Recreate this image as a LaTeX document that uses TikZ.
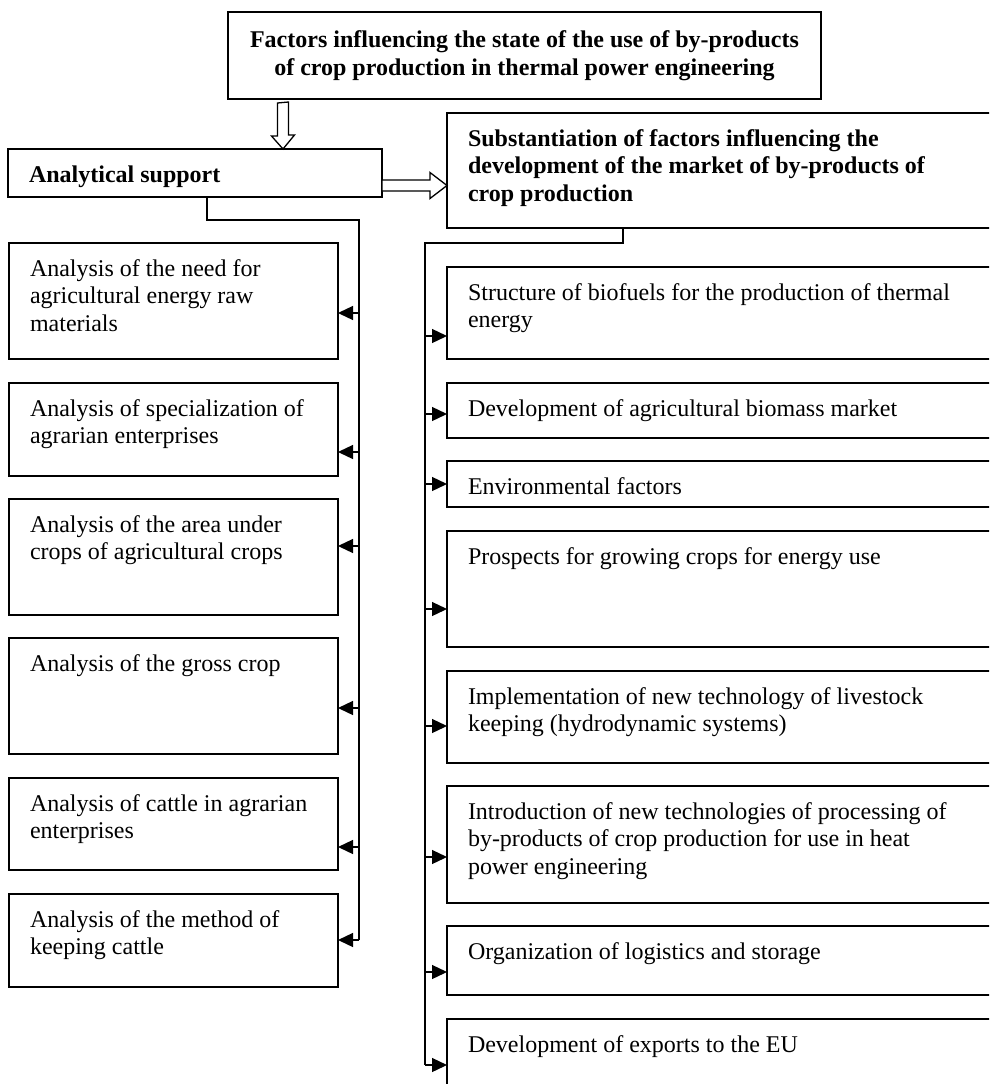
\documentclass[tikz,border=0pt]{standalone}
\usepackage{fontspec}
\setmainfont{Liberation Serif}
\usepackage{tikz}
\usetikzlibrary{arrows.meta}
\usetikzlibrary{positioning}
\newcommand{\cell}[3]{\parbox[c][#2][t]{#1}{\raggedright\rule{0pt}{33pt}#3}}
\tikzstyle{blk}=[draw=black, line width=1.6pt, anchor=north west, inner xsep=21pt, inner ysep=0pt, outer sep=0pt]
\tikzstyle{hol}=[draw=black, line width=1.3pt, fill=white, line join=miter]
\tikzstyle{ln}=[line width=1.3pt]
\tikzstyle{arr}=[ln, -{Triangle[length=15pt,width=14pt]}]

\begin{document}
\begin{tikzpicture}[x=1pt, y=-1pt, font=\fontsize{24}{27.5}\selectfont]
          \useasboundingbox (0,0) rectangle (989,1084);
          \clip (0,0) rectangle (989,1084);
          \fill[white] (0,0) rectangle (989,1084);
          % top of the scheme
          \node[draw=black, line width=1.6pt, minimum width=593pt, minimum height=87pt, align=center, inner sep=0pt, font=\fontsize{24}{27.5}\selectfont\bfseries] (top0) at (524.5,55.5){Factors influencing the state of the use of by-products\\of crop production in thermal power engineering};
          \node[blk] (ana0) at (8,149){\cell{332pt}{48pt}{\bfseries Analytical support}};
          \node[blk] (sub0) at (447,113){\cell{521pt}{115pt}{\bfseries Substantiation of factors influencing the\\development of the market of by-products of\\crop production}};
          % hollow arrows
          \coordinate (arw0) at (283,103);
          \coordinate (arw1) at (382,185.5);
          \draw[hol](arw0) ++(-5.5,0) -- ++(0,33) -- ++(-6,0) -- (arw0 |- ana0.north) -- ++(11.5,-14) -- ++(-6,0) -- ++(0,-33) -- cycle;
          \draw[hol](arw1) ++(0,-5.5) -- ++(48,0) -- ++(0,-7.5) -- (arw1 -| sub0.west) -- ++(-17,13) -- ++(0,-7.5) -- ++(-48,0) -- cycle;
          % analytical support
          \node[blk] (lft1) at (9,243){\cell{287pt}{116pt}{Analysis of the need for\\agricultural energy raw\\materials}};
          \node[blk] (lft2) at (9,383){\cell{287pt}{93pt}{Analysis of specialization of\\agrarian enterprises}};
          \node[blk] (lft3) at (9,499){\cell{287pt}{116pt}{Analysis of the area under\\crops of agricultural crops}};
          \node[blk] (lft4) at (9,638){\cell{287pt}{116pt}{Analysis of the gross crop}};
          \node[blk] (lft5) at (9,778){\cell{287pt}{92pt}{Analysis of cattle in agrarian\\enterprises}};
          \node[blk] (lft6) at (9,894){\cell{287pt}{93pt}{Analysis of the method of\\keeping cattle}};
          % factors of the market
          \node[blk] (rgt1) at (447,267){\cell{521pt}{92pt}{Structure of biofuels for the production of thermal\\energy}};
          \node[blk] (rgt2) at (447,383){\cell{521pt}{55pt}{Development of agricultural biomass market}};
          \node[blk] (rgt3) at (447,461){\cell{521pt}{46pt}{Environmental factors}};
          \node[blk] (rgt4) at (447,531){\cell{521pt}{116pt}{Prospects for growing crops for energy use}};
          \node[blk] (rgt5) at (447,671){\cell{521pt}{92pt}{Implementation of new technology of livestock\\keeping (hydrodynamic systems)}};
          \node[blk] (rgt6) at (447,786){\cell{521pt}{117pt}{Introduction of new technologies of processing of\\by-products of crop production for use in heat\\power engineering}};
          \node[blk] (rgt7) at (447,926){\cell{521pt}{69pt}{Organization of logistics and storage}};
          \node[blk] (rgt8) at (447,1019){\cell{521pt}{100pt}{Development of exports to the EU}};
          % branch points
          \coordinate (jl0) at (207,220);
          \coordinate (jl1) at (359,220);
          \coordinate (lb1) at (359,313);
          \coordinate (lb2) at (359,452);
          \coordinate (lb3) at (359,546);
          \coordinate (lb4) at (359,708);
          \coordinate (lb5) at (359,847);
          \coordinate (lb6) at (359,940);
          \coordinate (jr0) at (623,243);
          \coordinate (jr1) at (425,243);
          \coordinate (rb1) at (425,336);
          \coordinate (rb2) at (425,414);
          \coordinate (rb3) at (425,484);
          \coordinate (rb4) at (425,609);
          \coordinate (rb5) at (425,726);
          \coordinate (rb6) at (425,857);
          \coordinate (rb7) at (425,972);
          \coordinate (rb8) at (425,1065);
          \draw[ln](ana0.south -| jl0) -- (jl0) -- (jl1) -- (lb6);
          \draw[ln](sub0.south -| jr0) -- (jr0) -- (jr1) -- (rb8);
          \draw[arr](lb1) -- (lb1 -| lft1.east);
          \draw[arr](lb2) -- (lb2 -| lft2.east);
          \draw[arr](lb3) -- (lb3 -| lft3.east);
          \draw[arr](lb4) -- (lb4 -| lft4.east);
          \draw[arr](lb5) -- (lb5 -| lft5.east);
          \draw[arr](lb6) -- (lb6 -| lft6.east);
          \draw[arr](rb1) -- (rb1 -| rgt1.west);
          \draw[arr](rb2) -- (rb2 -| rgt2.west);
          \draw[arr](rb3) -- (rb3 -| rgt3.west);
          \draw[arr](rb4) -- (rb4 -| rgt4.west);
          \draw[arr](rb5) -- (rb5 -| rgt5.west);
          \draw[arr](rb6) -- (rb6 -| rgt6.west);
          \draw[arr](rb7) -- (rb7 -| rgt7.west);
          \draw[arr](rb8) -- (rb8 -| rgt8.west);
        \end{tikzpicture}
\end{document}
